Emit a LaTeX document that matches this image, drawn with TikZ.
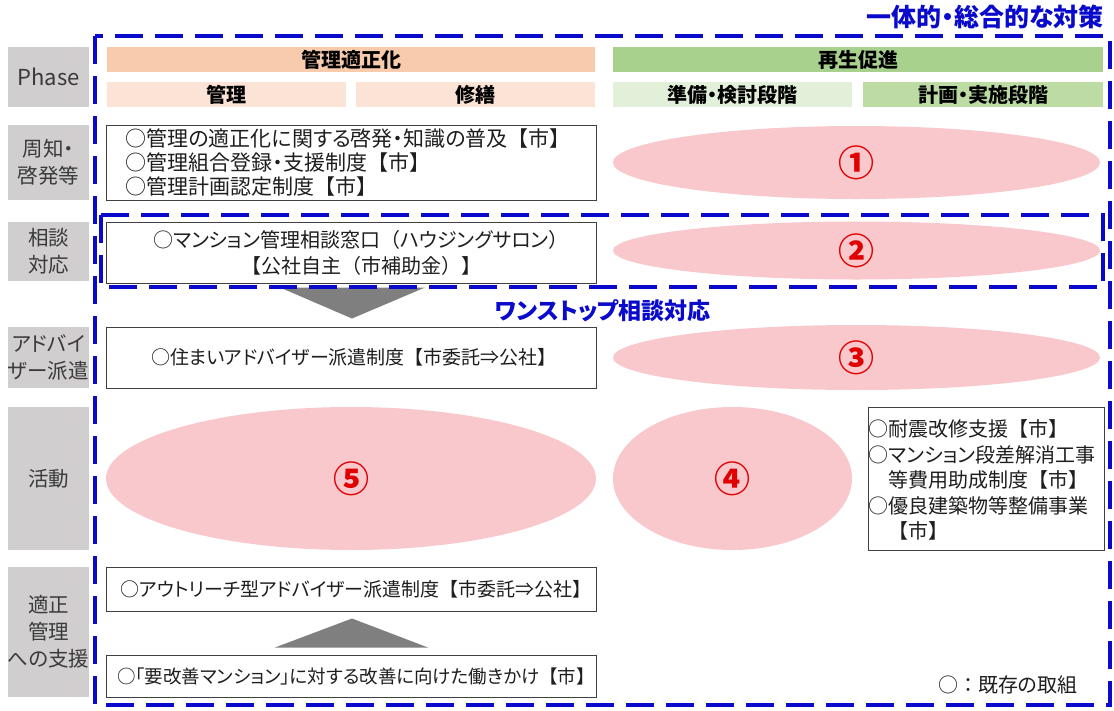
\documentclass[tikz,border=0pt]{standalone}
\usepackage{fontspec}
\setmainfont{Noto Sans CJK JP}[RawFeature=+palt]
\newfontfamily\fwfont{Noto Sans CJK JP}
\usetikzlibrary{shapes.geometric,calc}
\definecolor{phasegray}{HTML}{D0CECE}
\definecolor{phasetext}{HTML}{3A3A3A}
\definecolor{peach}{HTML}{F8CBAD}
\definecolor{peachlt}{HTML}{FBE3D5}
\definecolor{greenA}{HTML}{A9D18E}
\definecolor{greenB}{HTML}{E2F0D9}
\definecolor{greenC}{HTML}{BCDCA4}
\definecolor{dblue}{HTML}{0A0ACC}
\definecolor{pinkfill}{HTML}{F9C8CC}
\definecolor{numred}{HTML}{E00000}
\definecolor{trigray}{HTML}{7F7F7F}
\definecolor{boxline}{HTML}{404040}
\definecolor{itemtext}{HTML}{1E1E1E}
\newcommand{\fsz}[2]{\fontsize{#1}{#2}\selectfont}
\newcommand{\fw}[1]{{\fwfont #1}}
\begin{document}
\begin{tikzpicture}[x=1pt,y=-1pt,
  phasebox/.style={fill=phasegray, text=phasetext, align=center, inner sep=0pt, minimum width=81pt, font=\fsz{20.5}{27}},
  hdr/.style={inner sep=0pt, minimum height=25pt, font=\bfseries\fsz{20}{24}, text=black},
  itembox/.style={draw=boxline, line width=1pt, fill=white, inner sep=0pt, minimum width=490pt},
  itemtext/.style={font=\fsz{19}{24.5}, text=itemtext, inner sep=0pt},
  pinkell/.style={ellipse, fill=pinkfill, inner sep=0pt},
  circnum/.style={text=numred, font=\bfseries\fsz{36}{36}},
  bluedash/.style={draw=dblue, line width=3.5pt, dash pattern=on 28pt off 12pt},
  bluetitle/.style={text=dblue, font=\bfseries\fsz{25}{28}, inner sep=0pt},
]
\useasboundingbox (0,0) rectangle (1114,710);
\fill[white] (0,0) rectangle (1114,710);

% title
\node[bluetitle, anchor=east] (title) at (1104,17) {一体的・総合的な対策};

% phase column
\node[phasebox, minimum height=60pt, font=\fsz{22}{27}] (p0) at (48.5,77) {Phase};
\node[phasebox, minimum height=75pt] (p1) at (48.5,162.5) {周知・\\啓発等};
\node[phasebox, minimum height=59pt] (p2) at (48.5,251.5) {相談\\対応};
\node[phasebox, minimum height=61pt] (p3) at (48.5,357.5) {アドバイ\\ザー派遣};
\node[phasebox, minimum height=143pt] (p4) at (48.5,478.5) {活動};
\node[phasebox, minimum height=130pt] (p5) at (48.5,632) {適正\\管理\\への支援};

% headers
\node[hdr, fill=peach, minimum width=488pt] (h1) at (351,59.5) {管理適正化};
\node[hdr, fill=greenA, minimum width=490pt] (h2) at (858,59.5) {再生促進};
\node[hdr, fill=peachlt, minimum width=239pt] (s1) at (226.5,94.5) {管理};
\node[hdr, fill=peachlt, minimum width=239pt] (s2) at (475.5,94.5) {修繕};
\node[hdr, fill=greenB, minimum width=239pt] (s3) at (732.5,94.5) {準備・検討段階};
\node[hdr, fill=greenC, minimum width=240pt] (s4) at (983,94.5) {計画・実施段階};

% ellipses
\node[pinkell, minimum width=487pt, minimum height=73pt] (e1) at (856.5,162.5) {};
\node[pinkell, minimum width=487pt, minimum height=58pt] (e2) at (856.5,250.5) {};
\node[pinkell, minimum width=487pt, minimum height=65pt] (e3) at (856.5,357.5) {};
\node[pinkell, minimum width=239pt, minimum height=143pt] (e4) at (732.5,478.5) {};
\node[pinkell, minimum width=490pt, minimum height=143pt] (e5) at (351,478.5) {};
\node[circnum] (n1) at (e1.center) {①};
\node[circnum] (n2) at (e2.center) {②};
\node[circnum] (n3) at (e3.center) {③};
\node[circnum] (n4) at (e4.center) {④};
\node[circnum] (n5) at (e5.center) {⑤};

% item boxes
\node[itembox, minimum height=75pt] (b1) at (351,162.5) {};
\node[itembox, minimum height=61pt] (b2) at (351,252.5) {};
\node[itembox, minimum height=61pt] (b3) at (351,357.5) {};
\node[itembox, minimum height=44pt] (b6) at (351,589) {};
\node[itembox, minimum height=42pt] (b7) at (351,676) {};
\node[draw=boxline, line width=1pt, fill=white, inner sep=0pt, minimum width=236pt, minimum height=143pt] (rb) at (986,478.5) {};

\node[itemtext, anchor=west, align=left, font=\fsz{21}{24}] (t1) at ($(b1.west)+(20,0)$) {○管理の適正化に関する啓発・知識の普及\fw{【市】}\\○管理組合登録・支援制度\fw{【市】}\\○管理計画認定制度\fw{【市】}};
\node[itemtext, align=center, font=\fsz{20}{26}] (t2) at ($(b2.center)+(10,0)$) {○マンション管理相談窓口\fw{（}ハウジングサロン\fw{）}\\\fw{【公社自主（市補助金）】}};
\node[itemtext] (t3) at ($(b3.center)+(3,0)$) {○住まいアドバイザー派遣制度\fw{【}市委託⇒公社\fw{】}};
\node[itemtext] (t6) at ($(b6.center)+(5,0)$) {○アウトリーチ型アドバイザー派遣制度\fw{【}市委託⇒公社\fw{】}};
\node[itemtext, font=\fsz{18.5}{24}] (t7) at ($(b7.center)+(5,0)$) {○「要改善マンション」に対する改善に向けた働きかけ\fw{【市】}};
\node[itemtext, anchor=north west, align=left, font=\fsz{20}{25.5}] (tr) at ($(rb.north west)+(1,13)$) {○耐震改修支援\fw{【市】}\\○マンション段差解消工事\\\phantom{○}等費用助成制度\fw{【市】}\\○優良建築物等整備事業\\\phantom{○}\fw{【市】}};

% triangle connectors
\fill[trigray] ($(b2.south)+(-71,4)$) -- ($(b2.south)+(74,4)$) -- ($(b3.north)+(1,-8)$) -- cycle;
\fill[trigray] ($(b7.north)+(-76,-7)$) -- ($(b7.north)+(77,-7)$) -- ($(b6.south)+(1,7)$) -- cycle;

% dashed frames
\coordinate (o1) at (95,36);
\coordinate (o2) at (1110,705);
\draw[bluedash] (o1) rectangle (o2);
\coordinate (i1) at (101,215);
\coordinate (i2) at (1103,287);
\draw[bluedash] (i1) rectangle (i2);

\node[text=dblue, font=\bfseries\fsz{23}{24}, inner sep=0pt] (os) at (603,311) {ワンストップ相談対応};

% legend
\node[itemtext, anchor=west, font=\fsz{20}{24}] (leg) at (938,685) {\fw{○：}既存の取組};
\end{tikzpicture}
\end{document}
